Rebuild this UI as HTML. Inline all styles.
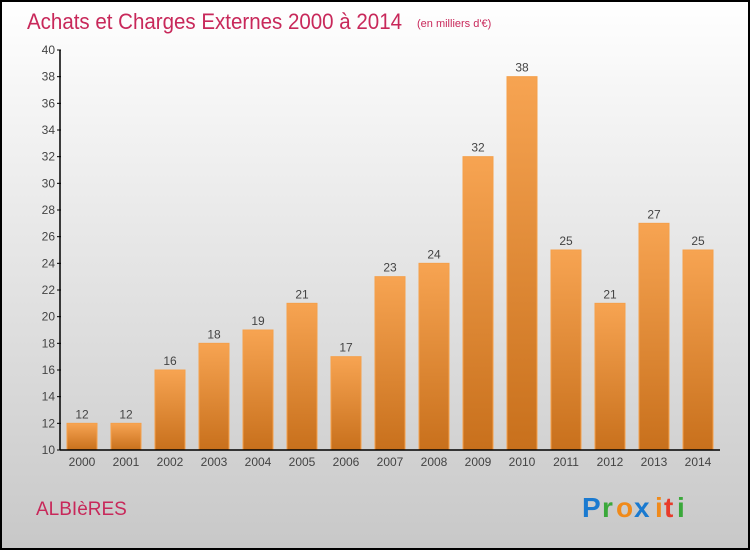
<!DOCTYPE html>
<html><head><meta charset="utf-8"><style>
body{margin:0}
svg{display:block;font-family:"Liberation Sans",sans-serif}
</style></head><body>
<svg id="c" width="750" height="550">
<defs>
<linearGradient id="bg" x1="0" y1="0" x2="0" y2="1"><stop offset="0" stop-color="#ffffff"/><stop offset="1" stop-color="#c8c8c8"/></linearGradient>
<linearGradient id="bar" x1="0" y1="0" x2="0" y2="1"><stop offset="0" stop-color="#f7a452"/><stop offset="1" stop-color="#c8701c"/></linearGradient>
</defs>
<rect x="1" y="1" width="748" height="548" fill="url(#bg)" stroke="#000" stroke-width="2"/>
<text x="27" y="29" font-size="22" fill="#c8285a" textLength="375" lengthAdjust="spacingAndGlyphs">Achats et Charges Externes 2000 à 2014</text>
<text x="417" y="27" font-size="11" fill="#c8285a">(en milliers d'€)</text>
<text x="36" y="515" font-size="19" fill="#c8285a">ALBIèRES</text>
<g font-size="28" font-weight="bold">
<text x="582" y="517" fill="#1a7ad0">P</text><text x="602" y="517" fill="#3aa83a">r</text><text x="616" y="517" fill="#f08a1a">o</text><text x="634" y="517" fill="#1a7ad0">x</text><text x="655" y="517" fill="#f08a1a">i</text><text x="664" y="517" fill="#e83a2a">t</text><text x="677" y="517" fill="#3aa83a">i</text>
</g>
<g id="plot"></g>
</svg>
<script>
const categories=["2000","2001","2002","2003","2004","2005","2006","2007","2008","2009","2010","2011","2012","2013","2014"];
const values=[12,12,16,18,19,21,17,23,24,32,38,25,21,27,25];
const yTicks=[10,12,14,16,18,20,22,24,26,28,30,32,34,36,38,40];
const NS="http://www.w3.org/2000/svg";
const g=document.getElementById('plot');
const y=v=>450-(v-10)*400/30;
const x=i=>82+i*44;
function mk(t,a,txt){const e=document.createElementNS(NS,t);for(const k in a)e.setAttribute(k,a[k]);if(txt!=null)e.textContent=txt;g.appendChild(e);return e;}
values.forEach((v,i)=>{
 const r=mk('rect',{x:x(i)-15,y:y(v),width:30,height:450-y(v),fill:'url(#bar)',stroke:'#f5a04a','stroke-width':1});
 
 
 const l=mk('text',{x:x(i),y:y(v)-5,'font-size':12,fill:'#444','text-anchor':'middle'},String(v));
 
 
 const c=mk('text',{x:x(i),y:466,'font-size':12,fill:'#444','text-anchor':'middle'},categories[i]);
 
 
});
yTicks.forEach(t=>{
 const tk=mk('line',{x1:57,x2:61,y1:y(t),y2:y(t),stroke:'#000'});
 
 
 const l=mk('text',{x:55,y:y(t)+4,'font-size':12,fill:'#444','text-anchor':'end'},String(t));
 
 
});
const ya=mk('line',{x1:60,x2:60,y1:50,y2:450,stroke:'#000','stroke-width':1.5});


const xa=mk('line',{x1:60,x2:720,y1:450,y2:450,stroke:'#000','stroke-width':1.5});


</script>
</body></html>
